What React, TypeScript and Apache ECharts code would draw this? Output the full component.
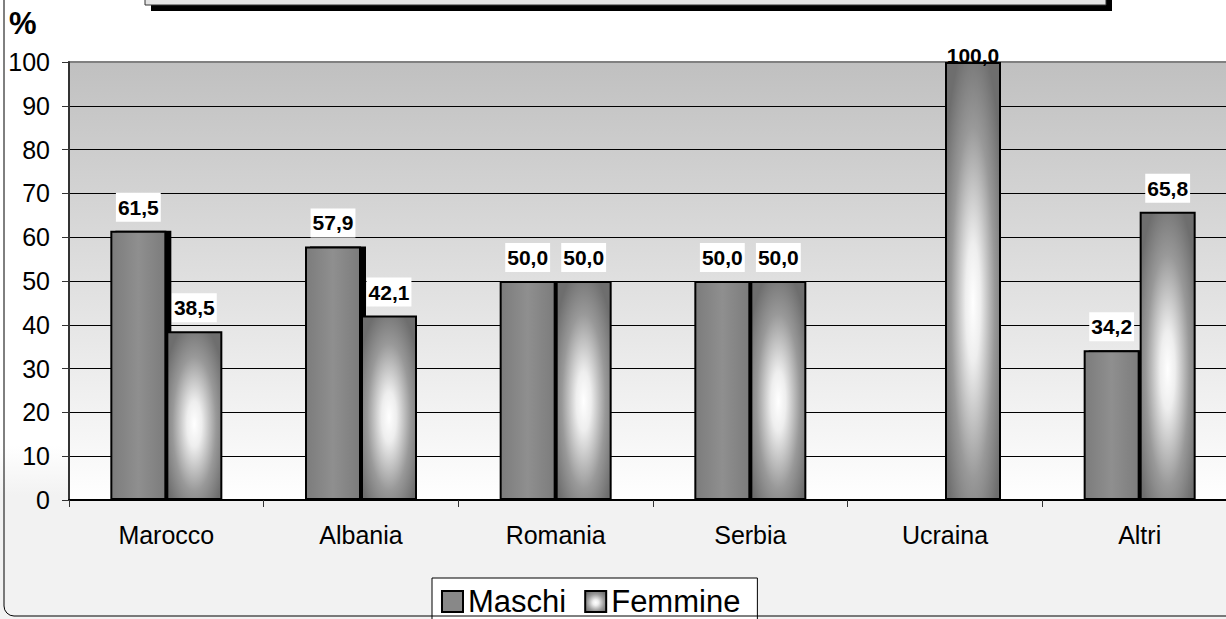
import React, { useEffect, useRef } from "react";
import * as echarts from "echarts";

const categories = ["Marocco", "Albania", "Romania", "Serbia", "Ucraina", "Altri"];
const maschi: (number | null)[] = [61.5, 57.9, 50.0, 50.0, null, 34.2];
const femmine: (number | null)[] = [38.5, 42.1, 50.0, 50.0, 100.0, 65.8];
const seriesNames = ["Maschi", "Femmine"];
const yMin = 0;
const yMax = 100;
const yStep = 10;

const FONT = "Arial, 'Liberation Sans', sans-serif";

const fmt = (v: any) => {
  const n = typeof v === "object" && v !== null ? v.value : v;
  if (n === null || n === undefined || n === "-") return "";
  return Number(n).toFixed(1).replace(".", ",");
};

export default function App() {
  const ref = useRef<HTMLDivElement>(null);
  useEffect(() => {
    document.body.style.margin = "0";
    document.body.style.overflow = "hidden";
    if (!ref.current) return;
    const chart = echarts.init(ref.current, undefined, { renderer: "svg" });

    const maschiFill = new echarts.graphic.LinearGradient(0, 0, 1, 0, [
      { offset: 0, color: "#7c7c7c" },
      { offset: 0.5, color: "#8f8f8f" },
      { offset: 1, color: "#7c7c7c" },
    ]);
    const femmineFill = new echarts.graphic.RadialGradient(0.5, 0.55, 0.62, [
      { offset: 0, color: "#ffffff" },
      { offset: 0.22, color: "#eeeeee" },
      { offset: 0.65, color: "#999999" },
      { offset: 1, color: "#6e6e6e" },
    ]);

    const labelBase = {
      show: true,
      position: "top",
      distance: 9,
      formatter: (p: any) => fmt(p.value),
      fontFamily: FONT,
      fontSize: 21,
      fontWeight: "bold",
      color: "#000",
      backgroundColor: "#ffffff",
      padding: [4, 2, 4, 2],
    };

    const mkData = (arr: (number | null)[]) =>
      arr.map((v) =>
        v === yMax
          ? { value: v, label: { distance: -4, backgroundColor: "transparent", padding: 0 } }
          : v === null
          ? "-"
          : v
      );

    chart.setOption({
      animation: false,
      graphic: [
        {
          type: "rect",
          z: -100,
          silent: true,
          shape: { x: 0, y: 0, width: 1240, height: 619 },
          style: {
            fill: new echarts.graphic.LinearGradient(0, 0, 0, 1, [
              { offset: 0, color: "#ffffff" },
              { offset: 0.72, color: "#ffffff" },
              { offset: 0.8, color: "#f2f2f2" },
              { offset: 1, color: "#f2f2f2" },
            ]),
          },
        },
        {
          type: "rect",
          z: 50,
          silent: true,
          shape: { x: 4, y: -20, width: 1300, height: 636, r: 10 },
          style: { fill: "transparent", stroke: "#000", lineWidth: 1 },
        },
        {
          type: "rect",
          z: 50,
          silent: true,
          shape: { x: 151, y: -20, width: 961, height: 31 },
          style: { fill: "#000" },
        },
        {
          type: "rect",
          z: 51,
          silent: true,
          shape: { x: 145, y: -20, width: 961, height: 25 },
          style: { fill: "#e4e4e4", stroke: "#333", lineWidth: 1 },
        },
        {
          type: "text",
          z: 51,
          x: 9,
          y: 8,
          style: { text: "%", font: `bold 31px ${FONT}`, fill: "#000" },
        },
      ],
      grid: {
        left: 69,
        top: 62,
        height: 438,
        right: 0,
        show: true,
        backgroundColor: new echarts.graphic.LinearGradient(0, 0, 0, 1, [
          { offset: 0, color: "#c0c0c0" },
          { offset: 1, color: "#ffffff" },
        ]),
        borderColor: "#808080",
        borderWidth: 2,
      },
      legend: {
        data: [
          { name: seriesNames[0], itemStyle: { shadowColor: "transparent", shadowOffsetX: 0, shadowBlur: 0, color: "#888888" } },
          { name: seriesNames[1], itemStyle: { shadowColor: "transparent" } },
        ],
        left: 432,
        top: 578,
        orient: "horizontal",
        icon: "rect",
        itemWidth: 21,
        itemHeight: 21,
        itemGap: 18,
        padding: [8, 17, 8, 9],
        backgroundColor: "#ffffff",
        borderColor: "#000",
        borderWidth: 1,
        textStyle: { fontFamily: FONT, fontSize: 31, color: "#000" },
      },
      xAxis: {
        type: "category",
        data: categories,
        axisLine: { show: true, lineStyle: { color: "#000", width: 2 } },
        axisTick: { show: true, length: 7, lineStyle: { color: "#333", width: 1 } },
        axisLabel: { fontFamily: FONT, fontSize: 25, color: "#000", margin: 22 },
      },
      yAxis: {
        type: "value",
        min: yMin,
        max: yMax,
        interval: yStep,
        axisLine: { show: true, lineStyle: { color: "#333", width: 2 } },
        axisTick: { show: true, length: 7, lineStyle: { color: "#333", width: 1 } },
        axisLabel: { fontFamily: FONT, fontSize: 25, color: "#000", margin: 19 },
        splitLine: { show: true, showMaxLine: false, lineStyle: { color: "#000", width: 1 } },
      },
      series: [
        {
          name: seriesNames[0],
          type: "bar",
          data: mkData(maschi),
          barWidth: 56,
          barGap: "0%",
          itemStyle: {
            color: maschiFill,
            borderColor: "#000",
            borderWidth: 2,
            shadowColor: "#000",
            shadowOffsetX: 5,
            shadowOffsetY: 0,
            shadowBlur: 0,
          },
          label: labelBase,
        },
        {
          name: seriesNames[1],
          type: "bar",
          data: mkData(femmine),
          barWidth: 56,
          barGap: "0%",
          itemStyle: { color: femmineFill, borderColor: "#000", borderWidth: 2 },
          label: labelBase,
        },
      ],
    });
    return () => chart.dispose();
  }, []);
  return (
    <div style={{ width: 1226, height: 619, overflow: "hidden" }}>
      <div ref={ref} style={{ width: 1237, height: 619 }} />
    </div>
  );
}
